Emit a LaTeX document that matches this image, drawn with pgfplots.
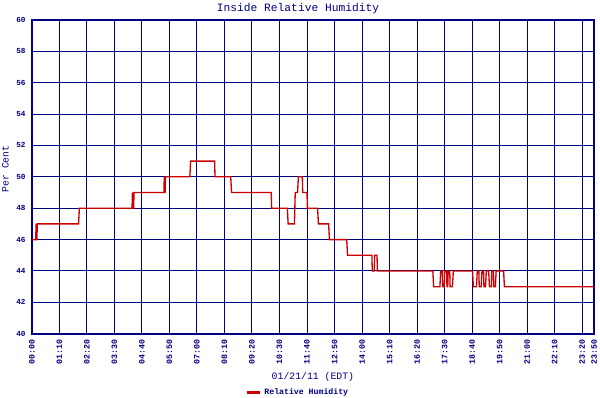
\documentclass[border=0pt]{standalone}
\usepackage{fontspec}
\setmainfont{Liberation Mono}
\usepackage{pgfplots}
\pgfplotsset{compat=1.18}
\definecolor{navy}{RGB}{0,0,128}
\definecolor{humred}{RGB}{204,0,0}

\begin{document}
\begin{tikzpicture}
\begin{axis}[
	set layers = standard,
	at = {(0,0)}, anchor = south west,
	scale only axis,
	width = 424.5pt,
	height = 237pt,
	xmin = 0, xmax = 1430,
	ymin = 40, ymax = 60,
	xtick = {0,70,140,210,280,350,420,490,560,630,700,770,840,910,980,1050,1120,1190,1260,1330,1400,1430},
	xticklabels = {00:00,01:10,02:20,03:30,04:40,05:50,07:00,08:10,09:20,10:30,11:40,12:50,14:00,15:10,16:20,17:30,18:40,19:50,21:00,22:10,23:20,23:50},
	ytick = {40,42,...,60},
	/pgf/number format/assume math mode = true,
	major tick length = 0pt,
	grid = major,
	grid style = {navy, line width=0.75pt},
	axis line style = {navy, line width=1.5pt},
	tick label style = {navy},
	x tick label style = {rotate=90, anchor=east, inner sep=0pt, xshift=-4.5pt, font=\fontsize{6.25}{7}\selectfont\bfseries},
	y tick label style = {inner sep=0pt, xshift=-4.5pt, font=\fontsize{5.8}{6}\selectfont\bfseries},
	xlabel = {01/21/11 (EDT)},
	xlabel style = {at={(axis description cs:0.5,-0.139)}, anchor=center, navy, font=\fontsize{7.4}{8}\selectfont},
	ylabel = {Per Cent},
	ylabel style = {at={(axis description cs:-0.0468,0.525)}, anchor=center, rotate=0, navy, font=\fontsize{7.4}{8}\selectfont},
	legend style = {at={(axis description cs:0.4735,-0.1867)}, anchor=center, draw=none, fill=none, text=navy, font=\fontsize{6.2}{7}\selectfont\bfseries, inner sep=0pt},
	legend image code/.code = {\draw[#1, line width=2pt] (0pt,0pt) -- (10.5pt,0pt);},
]
\addplot[humred, line width=1pt] coordinates {
	(0,46) (10,46) (11,47) (12,46) (13,46) (14,47)
	(119,47) (121,48)
	(255,48) (256,49) (257,48) (259,48) (260,49)
	(336,49) (337,50) (338,49) (339,49) (340,50)
	(402,50) (404,51)
	(465,51) (466,50)
	(506,50) (508,49)
	(609,49) (610,48)
	(650,48) (652,47)
	(668,47) (669,48) (670,49) (676,49) (678,50) (688,50) (689,49) (700,49) (701,48)
	(727,48) (729,47)
	(755,47) (757,46)
	(801,46) (803,45)
	(865,45) (866,44) (871,44) (872,45) (878,45) (879,44)
	(1020,44) (1022,43) (1038,43) (1040,44) (1044,44) (1045,43) (1049,43) (1050,44)
	(1055,44) (1056,43) (1058,43) (1059,44) (1063,44) (1064,43) (1070,43) (1072,44)
	(1121,44) (1123,43) (1131,43) (1133,44) (1137,44) (1138,43) (1143,43) (1145,44)
	(1149,44) (1150,43) (1154,43) (1156,44) (1162,44) (1164,43) (1169,43) (1170,44)
	(1174,44) (1175,43) (1179,43) (1181,44) (1200,44) (1202,43)
	(1430,43)
};
\addlegendentry{Relative Humidity}
\end{axis}
\node[navy, font=\fontsize{8.5}{9}\selectfont] at (201pt,245.25pt) {Inside Relative Humidity};
\pgfresetboundingbox
\useasboundingbox (-24pt,-48pt) rectangle (429pt,252pt);
\end{tikzpicture}
\end{document}
